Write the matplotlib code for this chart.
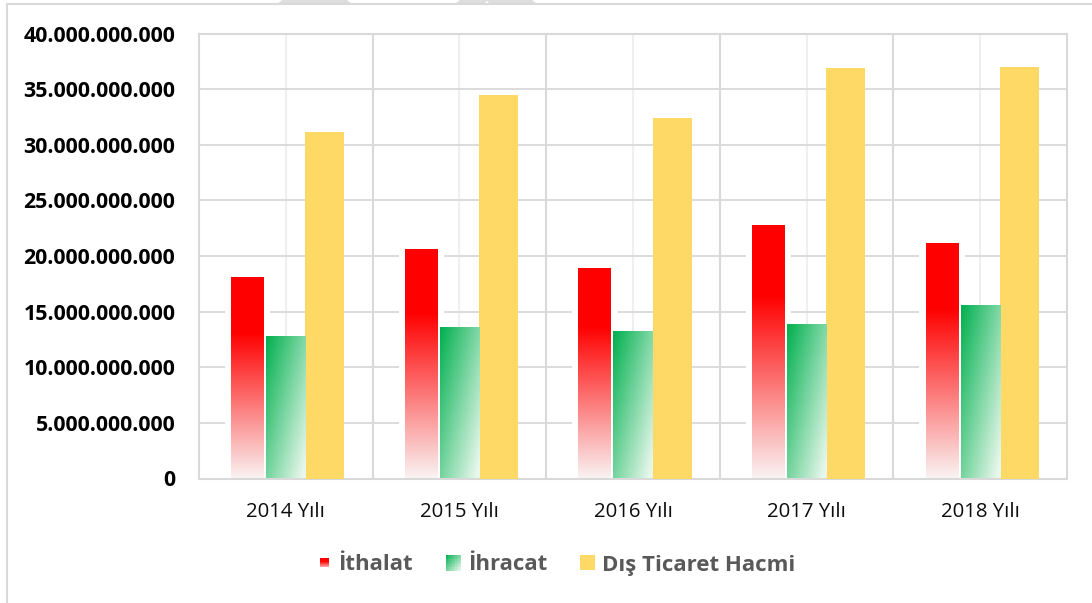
import numpy as np
import matplotlib
matplotlib.use("Agg")
import matplotlib.pyplot as plt
from matplotlib.patches import Rectangle, Polygon
from matplotlib.lines import Line2D
from matplotlib.legend_handler import HandlerBase
from matplotlib.ticker import FuncFormatter, MultipleLocator, FixedLocator

# ---------------- data ----------------
categories = ["2014 Yılı", "2015 Yılı", "2016 Yılı", "2017 Yılı", "2018 Yılı"]
ithalat = [18.11e9, 20.64e9, 18.90e9, 22.80e9, 21.18e9]
ihracat = [12.79e9, 13.62e9, 13.26e9, 13.89e9, 15.60e9]
dis_ticaret = [31.17e9, 34.49e9, 32.39e9, 36.92e9, 36.98e9]
series_names = ["İthalat", "İhracat", "Dış Ticaret Hacmi"]

W, H = 1092, 603
plt.rcParams['font.family'] = ['Open Sans', 'DejaVu Sans']

fig = plt.figure(figsize=(W / 100, H / 100), dpi=100)
fig.patch.set_facecolor('white')

def fx(x):
    return x / W

def fy(y):
    return 1 - y / H

ax = fig.add_axes([fx(199), fy(478.5), fx(1067) - fx(199), fy(33.7) - fy(478.5)])

GRID = '#d9d9d9'
YELLOW = '#ffd966'

x = np.arange(len(categories))
w = 0.2247
w_red = 0.19

# white glow behind red bars (soft edge)
ax.bar(x - w + 0.005, ithalat, 0.262, color='white', zorder=2.5, linewidth=0)

red_bars = ax.bar(x - w + 0.005, ithalat, w_red, color='none', linewidth=0, zorder=3)
green_bars = ax.bar(x, ihracat, w, color='none', linewidth=0, zorder=3)
ax.bar(x + w, dis_ticaret, w, color=YELLOW, linewidth=0, zorder=3)

# gradient fills
def red_grad(n=256):
    f = 1 - np.linspace(0, 1, n)  # fraction from top (row 0 = bottom)
    t = np.clip((f - 0.28) / 0.72, 0, 1)
    r = 1 - 0.02 * t
    g = 0.95 * t
    b = 0.95 * t
    return np.stack([r, g, b], axis=-1)[:, None, :]

def green_colors(t):
    c0 = np.array([0.0, 0.69, 0.31])
    c1 = np.array([0.91, 0.97, 0.925])
    return c0[None] * (1 - t[..., None]) + c1[None] * t[..., None]

def green_grad(ny=200, nx=40):
    xf = np.linspace(0, 1, nx)[None, :]
    yf = 1 - np.linspace(0, 1, ny)[:, None]
    t = np.clip(0.55 * xf + 0.5 * yf, 0, 1)
    return green_colors(t)

for rect in red_bars:
    x0, h_ = rect.get_x(), rect.get_height()
    im = ax.imshow(red_grad(), extent=[x0, x0 + rect.get_width(), 0, h_],
                   origin='lower', aspect='auto', zorder=3, interpolation='bilinear')
    im.set_clip_path(rect)
for rect in green_bars:
    x0, h_ = rect.get_x(), rect.get_height()
    im = ax.imshow(green_grad(), extent=[x0, x0 + rect.get_width(), 0, h_],
                   origin='lower', aspect='auto', zorder=3, interpolation='bilinear')
    im.set_clip_path(rect)

ax.set_xlim(-0.5, len(categories) - 0.5)
ax.set_ylim(0, 40e9)
ax.set_aspect('auto')

# axes styling
for s in ax.spines.values():
    s.set_color(GRID)
    s.set_linewidth(1.5)

ax.yaxis.set_major_locator(MultipleLocator(5e9))
ax.yaxis.set_major_formatter(FuncFormatter(lambda v, p: f"{v:,.0f}".replace(',', '.')))
ax.set_xticks(x)
ax.set_xticklabels(categories)
ax.xaxis.set_minor_locator(FixedLocator(np.arange(0.5, len(categories) - 0.5, 1)))

ax.grid(axis='y', which='major', color=GRID, linewidth=1.3, zorder=0)
ax.grid(axis='x', which='major', color='#efefef', linewidth=1.5, zorder=0)
ax.grid(axis='x', which='minor', color=GRID, linewidth=1.5, zorder=0)
ax.set_axisbelow(True)

ax.tick_params(axis='y', length=0, pad=17, labelsize=15.4, labelcolor='#000000')
ax.tick_params(axis='x', which='both', length=0, pad=17, labelsize=14.7, labelcolor='#0d0d0d')
for lab in ax.get_yticklabels():
    lab.set_fontweight('bold')

# ---------------- legend ----------------
class GradHandler(HandlerBase):
    def __init__(self, kind, wpt, hpt, **kw):
        super().__init__(**kw)
        self.kind = kind
        self.wpt = wpt
        self.hpt = hpt

    def create_artists(self, legend, orig_handle, xdescent, ydescent, width, height, fontsize, trans):
        cx = -xdescent + width / 2
        cy = -ydescent + height / 2
        x0 = cx - self.wpt / 2
        y0 = cy - self.hpt / 2
        arts = []
        if self.kind == 'yellow':
            arts.append(Rectangle((x0, y0), self.wpt, self.hpt, facecolor=YELLOW,
                                  edgecolor='none', transform=trans))
        elif self.kind == 'red':
            n = 8
            for i in range(n):
                f = (i + 0.5) / n  # from top
                t = np.clip((f - 0.3) / 0.7, 0, 1) * 0.7
                col = (1, 0.95 * t, 0.95 * t)
                arts.append(Rectangle((x0, y0 + self.hpt * (1 - (i + 1) / n)), self.wpt, self.hpt / n + 0.05,
                                      facecolor=col, edgecolor='none', transform=trans))
        else:
            n = 10
            for i in range(n):
                for j in range(n):
                    xf = (j + 0.5) / n
                    yf = (i + 0.5) / n
                    t = np.clip(0.55 * xf + 0.5 * yf, 0, 1)
                    col = green_colors(np.array([t]))[0]
                    arts.append(Rectangle((x0 + self.wpt * j / n, y0 + self.hpt * (1 - (i + 1) / n)),
                                          self.wpt / n + 0.05, self.hpt / n + 0.05,
                                          facecolor=col, edgecolor='none', transform=trans))
        return arts

h_red = Rectangle((0, 0), 1, 1)
h_green = Rectangle((0, 0), 1, 1)
h_yel = Rectangle((0, 0), 1, 1)
leg = fig.legend([h_red, h_green, h_yel], series_names, loc='center',
                 bbox_to_anchor=(fx(556), fy(565)), ncol=3, frameon=False,
                 handler_map={h_red: GradHandler('red', 6.5, 6.5),
                              h_green: GradHandler('green', 10.8, 11.5),
                              h_yel: GradHandler('yellow', 10.8, 10.8)},
                 prop={'size': 16, 'weight': 'bold'}, handlelength=0.675, handleheight=0.7,
                 handletextpad=0.29, columnspacing=1.5, borderpad=0.2)
for t in leg.get_texts():
    t.set_color('#595959')

# ---------------- chart frame & top tabs ----------------
fig.add_artist(Line2D([fx(7), fx(7)], [fy(4), 0], color=GRID, linewidth=1.5))
fig.add_artist(Line2D([fx(7), 1], [fy(4), fy(4)], color=GRID, linewidth=1.5))
tab1 = [(277, 4), (282, 0), (347, 0), (352, 4)]
tab2 = [(455, 4), (460, 0), (532, 0), (537, 4), (490, 4), (487, 1), (484, 4)]
for tab in (tab1, tab2):
    fig.add_artist(Polygon([(fx(a), fy(b)) for a, b in tab], closed=True,
                           facecolor='#dedede', edgecolor='none', transform=fig.transFigure))

fig.savefig('out.png', dpi=100, facecolor='white')
